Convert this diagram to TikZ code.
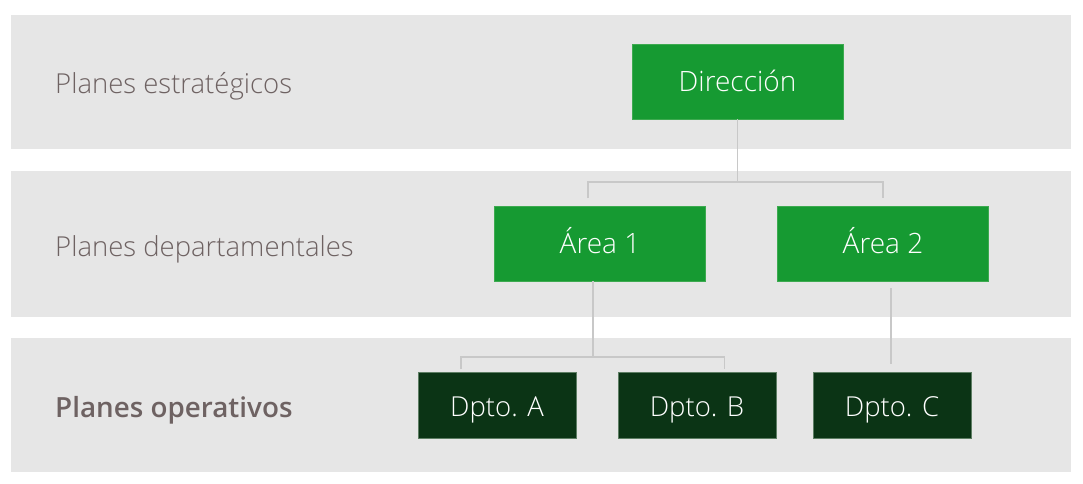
\documentclass[tikz,border=0pt]{standalone}
\usepackage{fontspec}
\newcommand{\myboldname}{Open Sans Bold}
\IfFontExistsTF{Open Sans Semibold}{\renewcommand{\myboldname}{Open Sans Semibold}}{}
\IfFontExistsTF{Open Sans Light}{%
  \setmainfont{Open Sans Light}[BoldFont={\myboldname}]%
}{%
  \setmainfont{Open Sans}%
}
\definecolor{band}{HTML}{E6E6E6}
\definecolor{lgreen}{HTML}{169A32}
\definecolor{lgreenb}{HTML}{3DAA50}
\definecolor{dgreen}{HTML}{0B3415}
\definecolor{dgreenb}{HTML}{5E7E64}
\definecolor{txt}{HTML}{6E6262}
\definecolor{conn}{HTML}{C8C8C8}
\tikzset{
  bandbox/.style={fill=band, draw=none},
  topbox/.style={fill=lgreen, draw=lgreenb, line width=0.8pt, text=white,
    minimum width=211pt, minimum height=75pt, inner sep=0pt,
    text height=20pt, text depth=0pt, font=\fontsize{28}{32}\selectfont},
  lowbox/.style={fill=dgreen, draw=dgreenb, line width=0.8pt, text=white,
    minimum width=158pt, minimum height=66pt, inner sep=0pt,
    text height=23.4pt, text depth=0pt, font=\fontsize{27.5}{32}\selectfont},
  lbl/.style={anchor=base west, text=txt, inner sep=0pt, font=\fontsize{27.5}{32}\selectfont},
  connline/.style={draw=conn, line width=1.1pt},
}
\begin{document}
\begin{tikzpicture}[x=1pt,y=-1pt]
\useasboundingbox[fill=white] (0,0) rectangle (1083,483);
% bands
\path[bandbox] (11,15) rectangle (1071,149);
\path[bandbox] (11,171) rectangle (1071,317);
\path[bandbox] (11,338) rectangle (1071,472);
% labels
\node[lbl] (l1) at (55,93) {Planes estratégicos};
\node[lbl] (l2) at (55,256) {Planes departamentales};
\node[lbl, font=\fontsize{27.8}{32}\selectfont\bfseries] (l3) at (55,417.5) {Planes operativos};
% boxes
\node[topbox] (dir) at (737.5,81.5) {Dirección};
\node[topbox] (a1) at (600,243.5) {Área 1};
\node[topbox] (a2) at (883,243.5) {Área 2};
\node[lowbox] (da) at (497,405) {Dpto. A};
\node[lowbox] (db) at (697,405) {Dpto. B};
\node[lowbox] (dc) at (892,405) {Dpto. C};
% junction coordinates
\coordinate (j1) at (737.5,182);
\coordinate (t1) at (588,198);
\coordinate (t2) at (883,198);
\coordinate (j2) at (593,357);
\coordinate (t3) at (461,369);
\coordinate (t4) at (724.5,369);
\coordinate (s3) at (891,288);
\coordinate (e3) at (891,364);
% connectors
\draw[connline] (dir.south) -- (j1);
\draw[connline] (t1) -- (t1 |- j1) -- (t2 |- j1) -- (t2);
\draw[connline] (a1.south -| j2) -- (j2);
\draw[connline] (t3) -- (t3 |- j2) -- (t4 |- j2) -- (t4);
\draw[connline] (s3) -- (e3);
\end{tikzpicture}
\end{document}
